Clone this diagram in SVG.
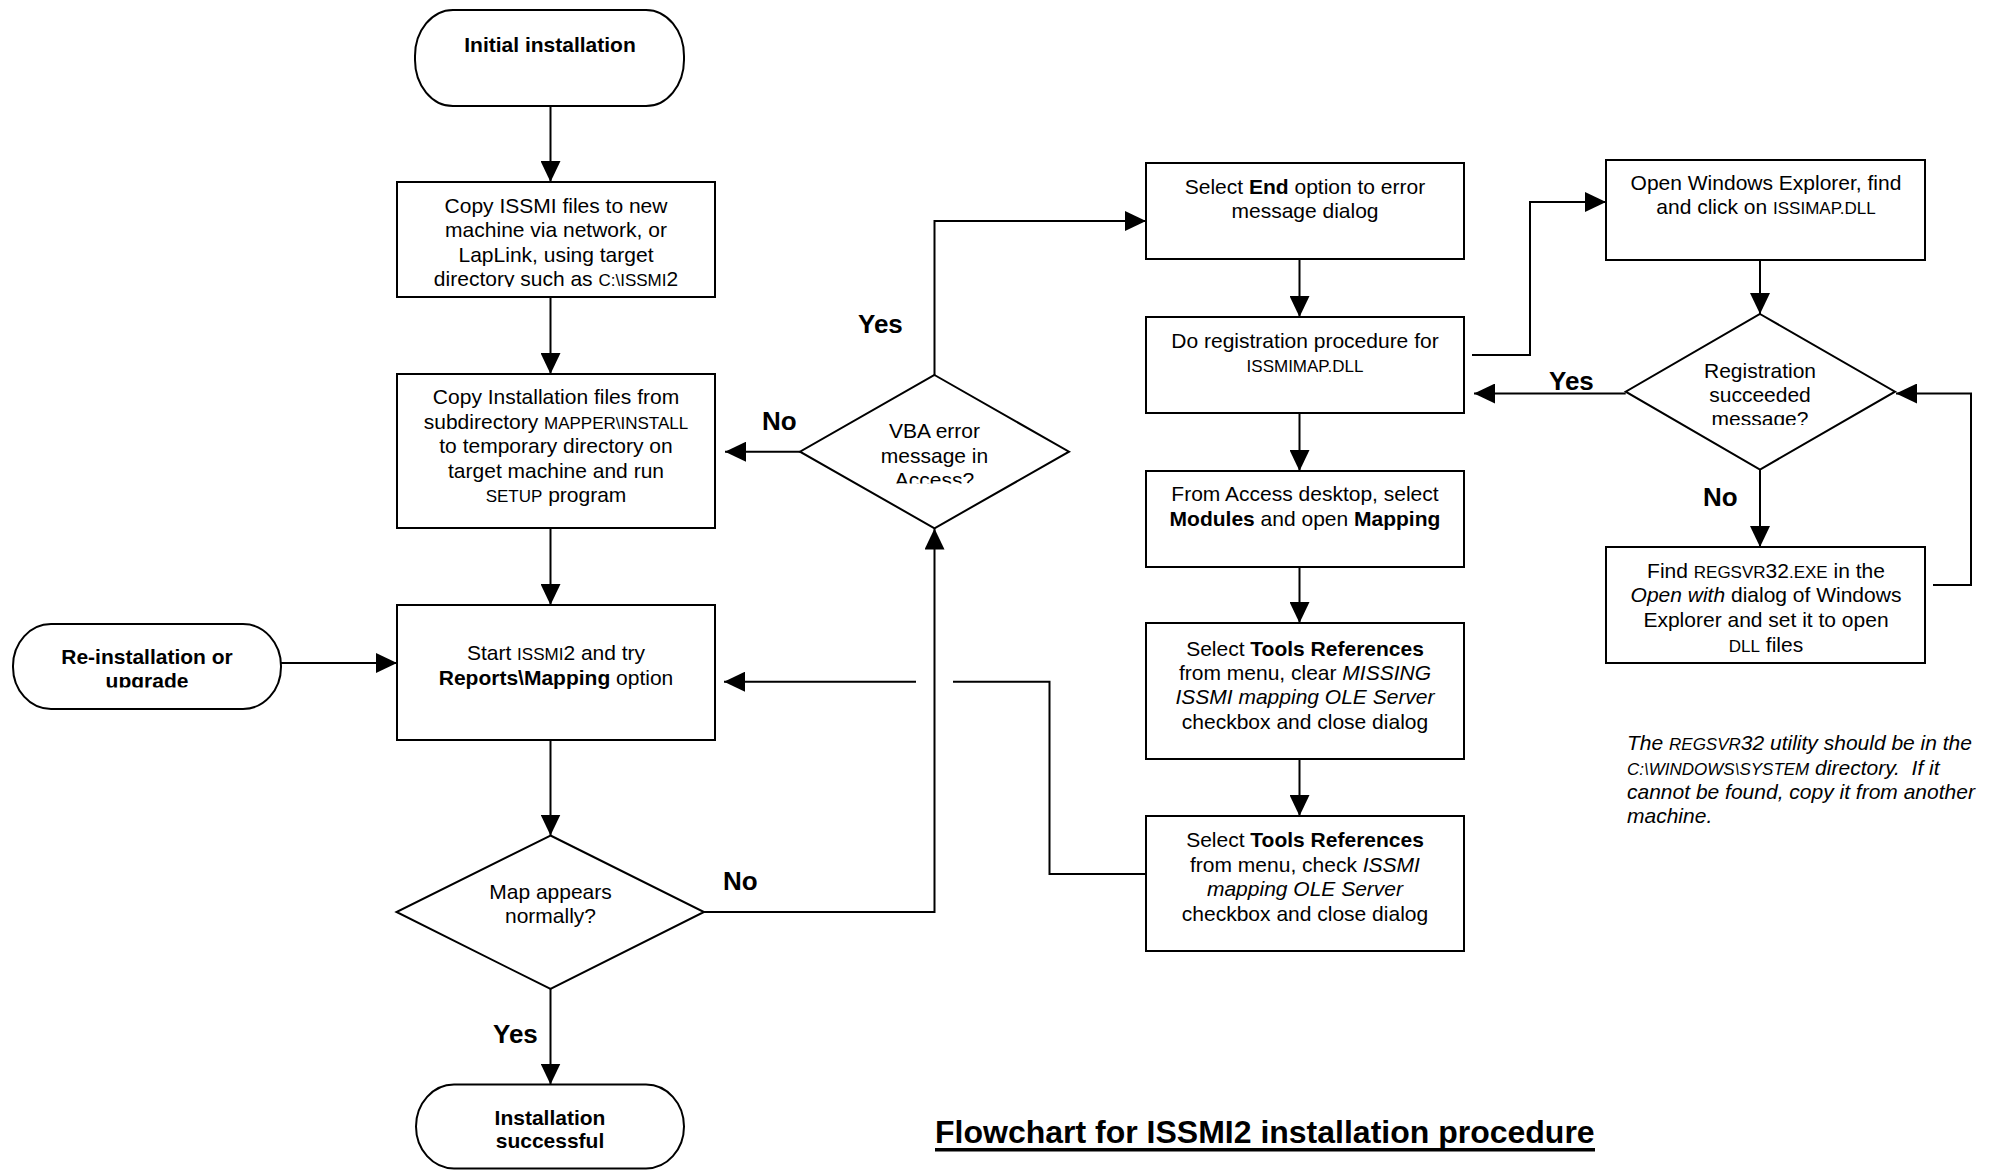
<svg xmlns="http://www.w3.org/2000/svg" width="2001" height="1170" viewBox="0 0 2001 1170">
<style>
.shape{fill:#fff;stroke:#000;stroke-width:2}
.t{font-family:"Liberation Sans",Arial,sans-serif;font-size:21px;text-anchor:middle;fill:#000}
.note{font-family:"Liberation Sans",Arial,sans-serif;font-size:21px;font-style:italic;fill:#000}
.sc{font-size:17px}
.b{font-weight:bold}
.i{font-style:italic}
.lbl{font-family:"Liberation Sans",Arial,sans-serif;font-size:26px;font-weight:bold;fill:#000}
.conn{fill:none;stroke:#000;stroke-width:2}
.title{font-family:"Liberation Sans",Arial,sans-serif;font-size:32px;font-weight:bold;fill:#000}
</style>
<defs>
<marker id="arr" markerUnits="userSpaceOnUse" markerWidth="21" markerHeight="20" refX="21" refY="10" orient="auto">
<path d="M0,0 L21,10 L0,20 z" fill="#000"/>
</marker>
<clipPath id="c1"><rect x="397" y="182" width="318" height="105"/></clipPath>
<clipPath id="c2"><rect x="13" y="624" width="268" height="63.5"/></clipPath>
<clipPath id="c3"><rect x="800" y="375" width="269" height="108.5"/></clipPath>
<clipPath id="c4"><rect x="1625" y="314" width="271" height="111"/></clipPath>
</defs>

<g id="connectors">
<path class="conn" d="M550.5,106 V182" marker-end="url(#arr)"/>
<path class="conn" d="M550.5,297 V374" marker-end="url(#arr)"/>
<path class="conn" d="M550.5,528 V605" marker-end="url(#arr)"/>
<path class="conn" d="M550.5,740 V835.5" marker-end="url(#arr)"/>
<path class="conn" d="M550.5,989 V1084.5" marker-end="url(#arr)"/>
<path class="conn" d="M281,663 H397" marker-end="url(#arr)"/>
<path class="conn" d="M704,912 H934.5 V528.5" marker-end="url(#arr)"/>
<path class="conn" d="M800,451.7 H725" marker-end="url(#arr)"/>
<path class="conn" d="M934.5,375 V221 H1146" marker-end="url(#arr)"/>
<path class="conn" d="M1299.5,259 V317" marker-end="url(#arr)"/>
<path class="conn" d="M1299.5,413 V471" marker-end="url(#arr)"/>
<path class="conn" d="M1299.5,567 V623" marker-end="url(#arr)"/>
<path class="conn" d="M1299.5,759 V816" marker-end="url(#arr)"/>
<path class="conn" d="M1146,874 H1049.5 V681.7 H953 M916,681.7 H724" marker-end="url(#arr)"/>
<path class="conn" d="M1472,355 H1530 V202 H1606" marker-end="url(#arr)"/>
<path class="conn" d="M1625.7,393.5 H1474" marker-end="url(#arr)"/>
<path class="conn" d="M1760,260 V314" marker-end="url(#arr)"/>
<path class="conn" d="M1760,469.5 V547" marker-end="url(#arr)"/>
<path class="conn" d="M1933,585 H1971 V393.5 H1896" marker-end="url(#arr)"/>
</g>

<g id="labels">
<text class="lbl" x="858" y="333">Yes</text>
<text class="lbl" x="762" y="429.5">No</text>
<text class="lbl" x="723" y="890">No</text>
<text class="lbl" x="493" y="1043">Yes</text>
<text class="lbl" x="1549" y="389.5">Yes</text>
<text class="lbl" x="1703" y="506">No</text>
</g>

<g id="initial">
<rect class="shape" x="415" y="10" width="269" height="96" rx="38" ry="46"/>
<text class="t b" x="550" y="52">Initial installation</text>
</g>

<g id="copy-files">
<rect class="shape" x="397" y="182" width="318" height="115"/>
<text class="t" x="556" y="213">Copy ISSMI files to new</text>
<text class="t" x="556" y="237">machine via network, or</text>
<text class="t" x="556" y="261.5">LapLink, using target</text>
<text class="t" x="556" y="286" clip-path="url(#c1)">directory such as <tspan class="sc">C:\ISSMI</tspan>2</text>
</g>

<g id="copy-install">
<rect class="shape" x="397" y="374" width="318" height="154"/>
<text class="t" x="556" y="404">Copy Installation files from</text>
<text class="t" x="556" y="428.5">subdirectory <tspan class="sc">MAPPER\INSTALL</tspan></text>
<text class="t" x="556" y="453">to temporary directory on</text>
<text class="t" x="556" y="477.5">target machine and run</text>
<text class="t" x="556" y="502"><tspan class="sc">SETUP</tspan> program</text>
</g>

<g id="start">
<rect class="shape" x="397" y="605" width="318" height="135"/>
<text class="t" x="556" y="660">Start <tspan class="sc">ISSMI</tspan>2 and try</text>
<text class="t" x="556" y="685"><tspan class="b">Reports\Mapping</tspan> option</text>
</g>

<g id="reinstall">
<rect class="shape" x="13" y="624" width="268" height="85" rx="38" ry="42"/>
<text class="t b" x="147" y="664">Re-installation or</text>
<text class="t b" x="147" y="688" clip-path="url(#c2)">upgrade</text>
</g>

<g id="map-ok">
<polygon class="shape" points="550.5,835.5 704,912 550.5,989 396.5,912"/>
<text class="t" x="550.5" y="899">Map appears</text>
<text class="t" x="550.5" y="923">normally?</text>
</g>

<g id="success">
<rect class="shape" x="416" y="1084.5" width="268" height="84" rx="38" ry="42"/>
<text class="t b" x="550" y="1125">Installation</text>
<text class="t b" x="550" y="1148">successful</text>
</g>

<g id="vba-error">
<polygon class="shape" points="934.5,375 1069,451.7 934.5,528.3 800,451.7"/>
<g clip-path="url(#c3)">
<text class="t" x="934.5" y="438">VBA error</text>
<text class="t" x="934.5" y="462.5">message in</text>
<text class="t" x="934.5" y="486.5">Access?</text>
</g>
</g>

<g id="select-end">
<rect class="shape" x="1146" y="163" width="318" height="96"/>
<text class="t" x="1305" y="194">Select <tspan class="b">End</tspan> option to error</text>
<text class="t" x="1305" y="218">message dialog</text>
</g>

<g id="registration">
<rect class="shape" x="1146" y="317" width="318" height="96"/>
<text class="t" x="1305" y="348">Do registration procedure for</text>
<text class="t sc" x="1305" y="372">ISSMIMAP.DLL</text>
</g>

<g id="access-desktop">
<rect class="shape" x="1146" y="471" width="318" height="96"/>
<text class="t" x="1305" y="501">From Access desktop, select</text>
<text class="t" x="1305" y="525.5"><tspan class="b">Modules</tspan> and open <tspan class="b">Mapping</tspan></text>
</g>

<g id="tools-clear">
<rect class="shape" x="1146" y="623" width="318" height="136"/>
<text class="t" x="1305" y="655.5">Select <tspan class="b">Tools References</tspan></text>
<text class="t" x="1305" y="680">from menu, clear <tspan class="i">MISSING</tspan></text>
<text class="t i" x="1305" y="704">ISSMI mapping OLE Server</text>
<text class="t" x="1305" y="728.5">checkbox and close dialog</text>
</g>

<g id="tools-check">
<rect class="shape" x="1146" y="816" width="318" height="135"/>
<text class="t" x="1305" y="847">Select <tspan class="b">Tools References</tspan></text>
<text class="t" x="1305" y="871.5">from menu, check <tspan class="i">ISSMI</tspan></text>
<text class="t i" x="1305" y="896">mapping OLE Server</text>
<text class="t" x="1305" y="920.5">checkbox and close dialog</text>
</g>

<g id="open-explorer">
<rect class="shape" x="1606" y="160" width="319" height="100"/>
<text class="t" x="1766" y="190">Open Windows Explorer, find</text>
<text class="t" x="1766" y="214">and click on <tspan class="sc">ISSIMAP.DLL</tspan></text>
</g>

<g id="reg-succeeded">
<polygon class="shape" points="1760,314 1895,391.7 1760,469.5 1625.7,391.7"/>
<g clip-path="url(#c4)">
<text class="t" x="1760" y="377.5">Registration</text>
<text class="t" x="1760" y="402">succeeded</text>
<text class="t" x="1760" y="426">message?</text>
</g>
</g>

<g id="find-regsvr">
<rect class="shape" x="1606" y="547" width="319" height="116"/>
<text class="t" x="1766" y="578">Find <tspan class="sc">REGSVR</tspan>32<tspan class="sc">.EXE</tspan> in the</text>
<text class="t" x="1766" y="602"><tspan class="i">Open with</tspan> dialog of Windows</text>
<text class="t" x="1766" y="627">Explorer and set it to open</text>
<text class="t" x="1766" y="651.5"><tspan class="sc">DLL</tspan> files</text>
</g>

<g id="note">
<text class="note" x="1627" y="750">The <tspan class="sc">REGSVR</tspan>32 utility should be in the</text>
<text class="note" x="1627" y="775"><tspan class="sc">C:\WINDOWS\SYSTEM</tspan> directory.&#160; If it</text>
<text class="note" x="1627" y="798.5">cannot be found, copy it from another</text>
<text class="note" x="1627" y="822.5">machine.</text>
</g>

<g id="title">
<text class="title" x="935" y="1143">Flowchart for ISSMI2 installation procedure</text>
<rect x="935" y="1148" width="660" height="3.5" fill="#000"/>
</g>
</svg>
